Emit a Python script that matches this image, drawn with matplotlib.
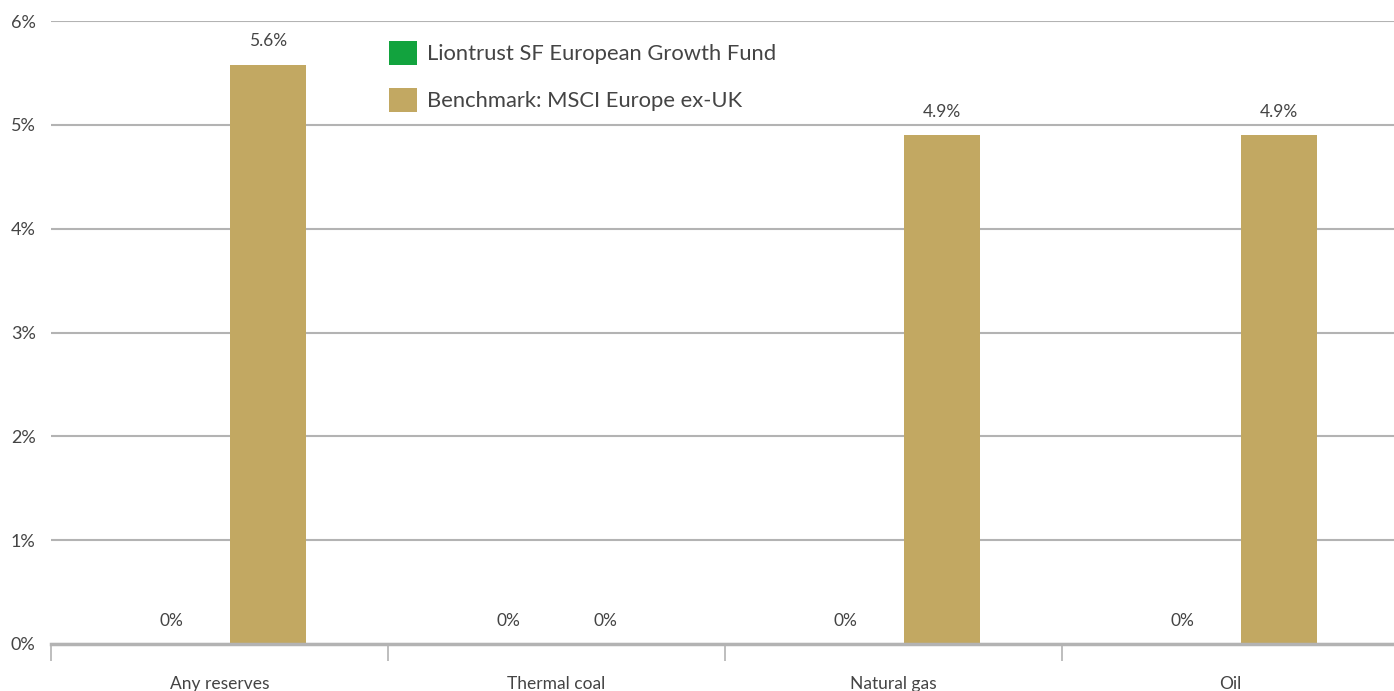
import matplotlib
matplotlib.use("Agg")
import matplotlib.pyplot as plt
import numpy as np

categories = ["Any reserves", "Thermal coal", "Natural gas", "Oil"]
fund_values = [0.0, 0.0, 0.0, 0.0]
bench_values = [5.58, 0.0, 4.9, 4.9]
series_names = ["Liontrust SF European Growth Fund", "Benchmark: MSCI Europe ex-UK"]
yticks = [0, 1, 2, 3, 4, 5, 6]

plt.rcParams['font.family'] = ['Lato', 'DejaVu Sans']
plt.rcParams['font.weight'] = 'normal'

GREEN = "#12a33e"
GOLD = "#c2a862"
TEXT = "#444444"
GRID = "#b3b3b3"

W, H = 1394, 691
fig = plt.figure(figsize=(W / 100, H / 100), dpi=100)
left, right, top, bottom = 51, 1399, 21, 644
ax = fig.add_axes([left / W, (H - bottom) / H, (right - left) / W, (bottom - top) / H])

x = np.arange(len(categories))
bw = 0.223
off = 0.144
b1 = ax.bar(x - off, fund_values, bw, color=GREEN, label=series_names[0], zorder=3)
b2 = ax.bar(x + off, bench_values, bw, color=GOLD, label=series_names[1], zorder=3)

def fmt(v):
    return "0%" if v == 0 else f"{v:.1f}%"

for bars, vals in ((b1, fund_values), (b2, bench_values)):
    for rect, v in zip(bars, vals):
        ax.annotate(fmt(v), (rect.get_x() + rect.get_width() / 2, v),
                    xytext=(0, 11), textcoords="offset points",
                    ha="center", va="bottom", fontsize=12.5, color=TEXT)

ax.set_xlim(-0.5, len(categories) - 0.5)
ax.set_ylim(0, 6)
ax.set_yticks(yticks)
ax.set_yticklabels([f"{t}%" for t in yticks], fontsize=13, color=TEXT)
ax.yaxis.grid(True, color=GRID, linewidth=1.5, zorder=0)
ax.set_axisbelow(True)
ax.tick_params(axis='y', length=0, pad=11)

ax.set_xticks(x)
ax.set_xticklabels(categories, fontsize=12.5, color=TEXT)
ax.set_xticks(np.arange(len(categories)) - 0.5, minor=True)
ax.tick_params(axis='x', which='major', length=0, pad=23)
ax.tick_params(axis='x', which='minor', length=12, width=1.2, color=GRID)

for s in ("top", "right", "left"):
    ax.spines[s].set_visible(False)
ax.spines["bottom"].set_color(GRID)
ax.spines["bottom"].set_linewidth(2.5)
ax.spines["bottom"].set_zorder(4)

leg = ax.legend(loc="upper left", bbox_to_anchor=(380 / W, 1 - 32 / H),
                bbox_transform=fig.transFigure, frameon=False,
                fontsize=15.8, handlelength=1.3, handleheight=1.3,
                handletextpad=0.45, labelspacing=1.05, borderaxespad=0)
for t in leg.get_texts():
    t.set_color(TEXT)

fig.savefig("out.png", dpi=100)
